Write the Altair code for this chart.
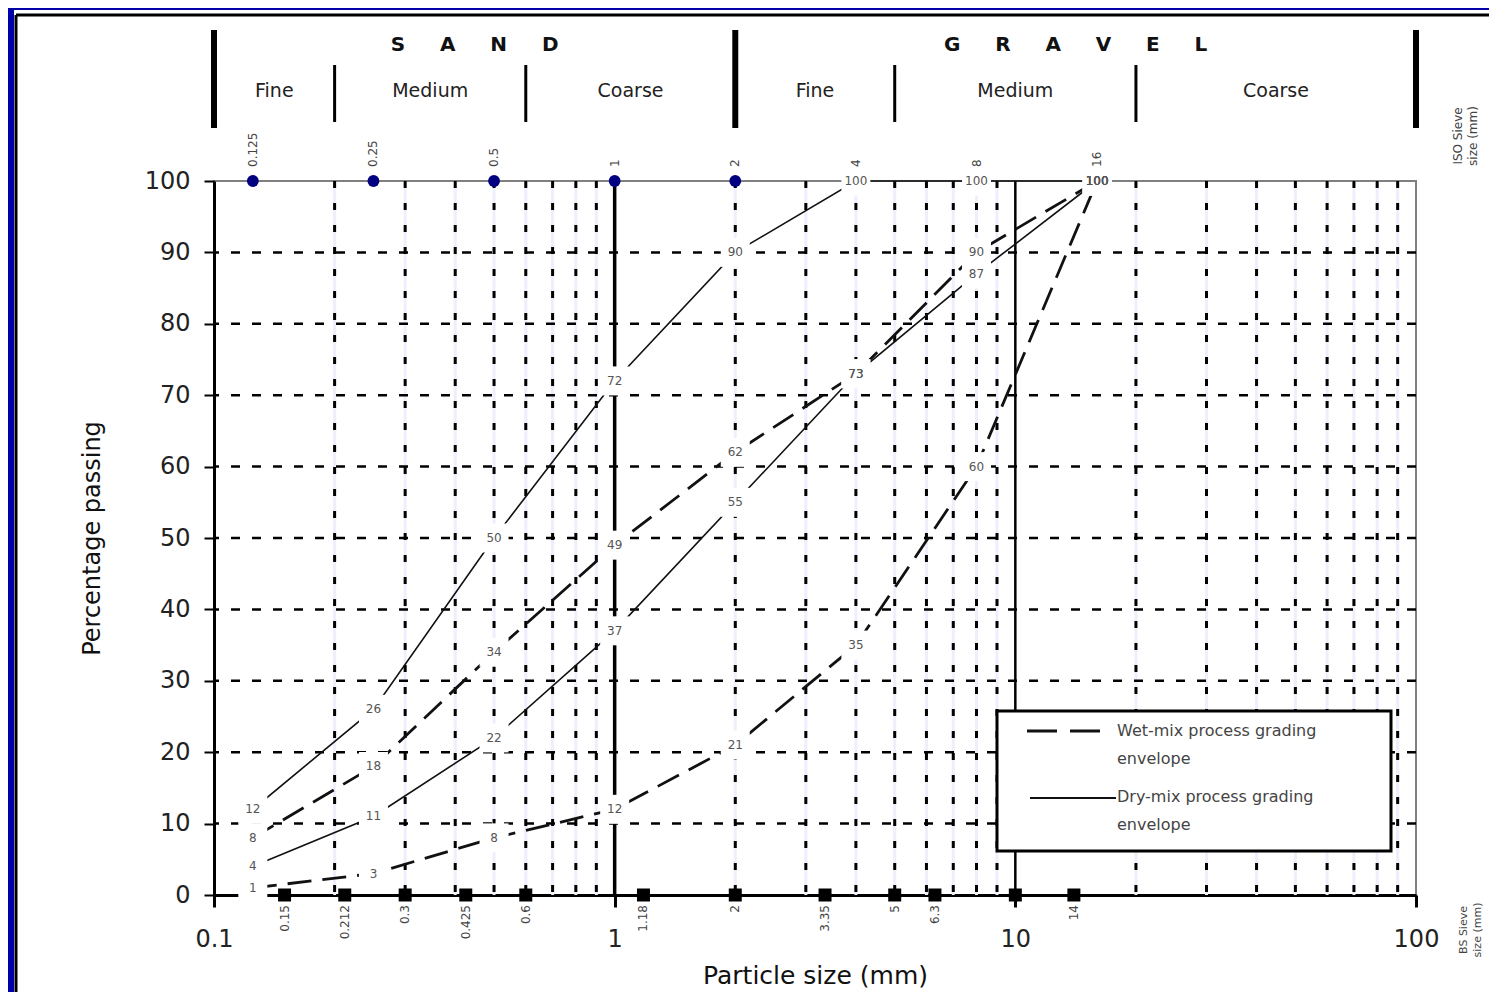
import altair as alt
import pandas as pd

# ---------------- data ----------------
sizes = [0.125, 0.25, 0.5, 1, 2, 4, 8, 16]
dry_upper = [12, 26, 50, 72, 90, 100, 100, 100]
dry_lower = [4, 11, 22, 37, 55, 73, 87, 100]
wet_upper = [8, 18, 34, 49, 62, 73, 90, 100]
wet_lower = [1, 3, 8, 12, 21, 35, 60, 100]

iso_sizes = [0.125, 0.25, 0.5, 1, 2, 4, 8, 16]
iso_labels = ["0.125", "0.25", "0.5", "1", "2", "4", "8", "16"]
iso_dots = [0.125, 0.25, 0.5, 1, 2]

bs_sizes = [0.15, 0.212, 0.3, 0.425, 0.6, 1.18, 2, 3.35, 5, 6.3, 10, 14]
bs_labels = ["0.15", "0.212", "0.3", "0.425", "0.6", "1.18", "2", "3.35", "5", "6.3", "", "14"]

y_ticks = [0, 10, 20, 30, 40, 50, 60, 70, 80, 90, 100]
x_ticks = [0.1, 1, 10, 100]
h_grid = [10, 20, 30, 40, 50, 60, 70, 80, 90]
v_grid = [0.2, 0.3, 0.4, 0.5, 0.6, 0.7, 0.8, 0.9,
          2, 3, 4, 5, 6, 7, 8, 9,
          20, 30, 40, 50, 60, 70, 80, 90]
v_major = [1, 10]

major_bounds = [0.1, 2, 100]
major_names = ["SAND", "GRAVEL"]
minor_bounds = [0.1, 0.2, 0.6, 2, 5, 20, 100]
minor_names = ["Fine", "Medium", "Coarse", "Fine", "Medium", "Coarse"]

legend_labels = ["Wet-mix process grading\nenvelope", "Dry-mix process grading\nenvelope"]
iso_side = "ISO Sieve\nsize (mm)"
bs_side = "BS Sieve\nsize (mm)"

# ---------------- tables ----------------
rows = []
for name, proc, vals in [("dry_upper", "dry", dry_upper), ("dry_lower", "dry", dry_lower),
                         ("wet_upper", "wet", wet_upper), ("wet_lower", "wet", wet_lower)]:
    for s, v in zip(sizes, vals):
        rows.append({"x": s, "y": v, "series": name, "process": proc})
curves = pd.DataFrame(rows)

iso_df = pd.DataFrame({"x": iso_sizes, "label": iso_labels})
iso_dot_df = pd.DataFrame({"x": iso_dots, "y": [100] * len(iso_dots)})
bs_df = pd.DataFrame({"x": bs_sizes, "y": [0] * len(bs_sizes), "label": bs_labels})
bs_lab_df = bs_df[bs_df["label"] != ""]

NB = "\u00a0" * 5
major_df = pd.DataFrame({
    "x": [(major_bounds[i] * major_bounds[i + 1]) ** 0.5 for i in range(len(major_names))],
    "label": [NB.join(n) for n in major_names]})
minor_df = pd.DataFrame({
    "x": [(minor_bounds[i] * minor_bounds[i + 1]) ** 0.5 for i in range(len(minor_names))],
    "label": minor_names})
thick_df = pd.DataFrame({"x": major_bounds})
thin_df = pd.DataFrame({"x": [b for b in minor_bounds if b not in major_bounds]})
one = pd.DataFrame({"k": [0]})

FONT = "DejaVu Sans"
XS = alt.Scale(type="log", domain=[0.1, 100], nice=False)
YS = alt.Scale(domain=[0, 100], nice=False)

XA = alt.Axis(
    values=x_ticks, format="~g", title="Particle size (mm)",
    labelFontSize=24, labelFont=FONT, labelColor="#222", labelFlush=False, labelOverlap=False,
    labelPadding=20, tickSize=12, tickWidth=3, tickColor="black",
    domainColor="black", domainWidth=3, grid=False,
    titleFontSize=25, titleFont=FONT, titleFontWeight="normal", titleColor="#111",
    titlePadding=12)
YA = alt.Axis(
    values=y_ticks, title="Percentage passing",
    labelFontSize=24, labelFont=FONT, labelColor="#222", labelFlush=False, labelOverlap=False,
    labelPadding=14, tickSize=10, tickWidth=2, tickColor="black",
    domainColor="black", domainWidth=3, grid=False,
    titleFontSize=24, titleFont=FONT, titleFontWeight="normal", titleColor="#111",
    titlePadding=40)


def xf():
    return alt.X("x:Q", scale=XS, axis=XA, title="Particle size (mm)")


def yf():
    return alt.Y("y:Q", scale=YS, axis=YA, title="Percentage passing")


# ---------------- layers ----------------
faint = alt.Chart(pd.DataFrame({"x": v_grid})).mark_rule(
    color="#eeeefc", strokeWidth=3).encode(x=xf())

hgrid = alt.Chart(pd.DataFrame({"y": h_grid})).mark_rule(
    color="black", strokeWidth=2.5, strokeDash=[9, 12]).encode(y=yf())

vgrid = alt.Chart(pd.DataFrame({"x": v_grid})).mark_rule(
    color="black", strokeWidth=3, strokeDash=[7, 15]).encode(x=xf())

vmaj = alt.Chart(pd.DataFrame({"x": v_major, "w": [3.5, 2.5]})).mark_rule(
    color="black").encode(x=xf(), strokeWidth=alt.StrokeWidth("w:Q", scale=None, legend=None))

dry = alt.Chart(curves[curves["process"] == "dry"]).mark_line(
    color="#111", strokeWidth=1.6).encode(x=xf(), y=yf(), detail="series:N")

wet = alt.Chart(curves[curves["process"] == "wet"]).mark_line(
    color="#111", strokeWidth=2.8, strokeDash=[24, 11]).encode(
    x=xf(), y=yf(), detail="series:N")

boxes = alt.Chart(curves).mark_square(
    size=841, color="white", opacity=1, strokeWidth=0).encode(x=xf(), y=yf())

plabels = alt.Chart(curves).mark_text(
    fontSize=12, font=FONT, color="#555").encode(
    x=xf(), y=yf(), text=alt.Text("y:Q", format="d"))

dots = alt.Chart(iso_dot_df).mark_circle(
    size=140, color="#000080", opacity=1).encode(x=xf(), y=yf())

squares = alt.Chart(bs_df).mark_square(
    size=169, color="black", opacity=1).encode(x=xf(), y=yf())

iso_text = alt.Chart(iso_df).mark_text(
    angle=270, align="left", baseline="middle", fontSize=12, font=FONT, color="#444").encode(
    x=xf(), y=alt.value(-14), text="label:N")

bs_text = alt.Chart(bs_lab_df).mark_text(
    angle=270, align="right", baseline="middle", fontSize=12, font=FONT, color="#444").encode(
    x=xf(), y=alt.value(724), text="label:N")

thick_bars = alt.Chart(thick_df).mark_rule(color="black", strokeWidth=6).encode(
    x=xf(), y=alt.value(-151), y2=alt.value(-53))
thin_bars = alt.Chart(thin_df).mark_rule(color="black", strokeWidth=3).encode(
    x=xf(), y=alt.value(-116), y2=alt.value(-59))

major_text = alt.Chart(major_df).mark_text(
    fontSize=20, fontWeight="bold", font=FONT, color="#111").encode(
    x=xf(), y=alt.value(-136), text="label:N")
minor_text = alt.Chart(minor_df).mark_text(
    fontSize=19, font=FONT, color="#222").encode(
    x=xf(), y=alt.value(-90), text="label:N")

leg_box = alt.Chart(one).mark_rect(fill="white", stroke="black", strokeWidth=3).encode(
    x=alt.value(783), x2=alt.value(1177), y=alt.value(530), y2=alt.value(670))
leg_wet = alt.Chart(one).mark_rule(color="#111", strokeWidth=2.8, strokeDash=[30, 13]).encode(
    x=alt.value(813), x2=alt.value(886), y=alt.value(550))
leg_dry = alt.Chart(one).mark_rule(color="#111", strokeWidth=1.8).encode(
    x=alt.value(816), x2=alt.value(902), y=alt.value(617))
leg_t1 = alt.Chart(one).mark_text(
    text=legend_labels[0], lineBreak="\n", lineHeight=28, align="left", baseline="top",
    fontSize=16, font=FONT, color="#444").encode(x=alt.value(903), y=alt.value(542))
leg_t2 = alt.Chart(one).mark_text(
    text=legend_labels[1], lineBreak="\n", lineHeight=28, align="left", baseline="top",
    fontSize=16, font=FONT, color="#444").encode(x=alt.value(903), y=alt.value(608))

iso_side_t = alt.Chart(one).mark_text(
    text=iso_side, lineBreak="\n", lineHeight=15, angle=270, align="center", baseline="middle",
    fontSize=12, font=FONT, color="#444").encode(x=alt.value(1244), y=alt.value(-45))
bs_side_t = alt.Chart(one).mark_text(
    text=bs_side, lineBreak="\n", lineHeight=14, angle=270, align="center", baseline="middle",
    fontSize=11, font=FONT, color="#444").encode(x=alt.value(1250), y=alt.value(749))

frame_top = alt.Chart(one).mark_rule(color="black", strokeWidth=3).encode(
    x=alt.value(-198), x2=alt.value(1275), y=alt.value(-166))
frame_left = alt.Chart(one).mark_rule(color="black", strokeWidth=3).encode(
    x=alt.value(-198), y=alt.value(-166), y2=alt.value(811))
blue_left = alt.Chart(one).mark_rect(color="#0000aa", opacity=1).encode(
    x=alt.value(-206), x2=alt.value(-200), y=alt.value(-173), y2=alt.value(811))
blue_top = alt.Chart(one).mark_rect(color="#0000aa", opacity=1).encode(
    x=alt.value(-206), x2=alt.value(1275), y=alt.value(-173), y2=alt.value(-171))

chart = alt.layer(
    faint, hgrid, vgrid, vmaj, dry, wet, boxes, plabels, dots, squares,
    iso_text, bs_text, thick_bars, thin_bars, major_text, minor_text,
    leg_box, leg_wet, leg_dry, leg_t1, leg_t2, iso_side_t, bs_side_t,
    frame_top, frame_left, blue_left, blue_top
).properties(
    width=1202, height=714,
    padding={"left": 206, "top": 173, "right": 73, "bottom": 97},
    autosize=alt.AutoSizeParams(type="none"),
).configure(
    background="white", font=FONT,
    view=alt.ViewConfig(stroke="#808080", strokeWidth=2),
)

chart.save("out.html", embed_options={"renderer": "svg", "actions": False})
